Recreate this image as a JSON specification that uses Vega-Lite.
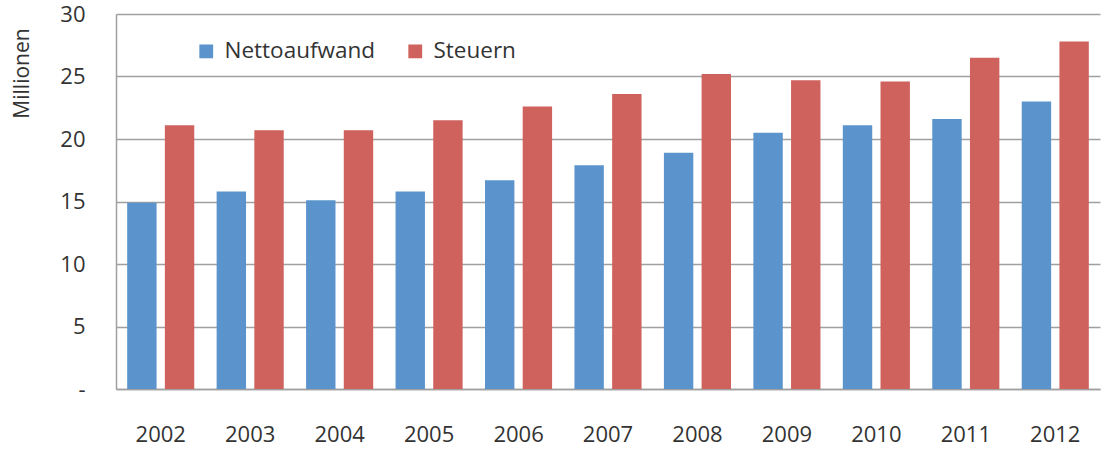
{
  "$schema": "https://vega.github.io/schema/vega-lite/v6.json",
  "width": 984,
  "height": 375,
  "autosize": {"type": "none"},
  "padding": {"left": 116, "top": 14, "right": 4, "bottom": 61},
  "background": "white",
  "config": {
    "view": {"stroke": null},
    "font": "Open Sans"
  },
  "data": {
    "values": [
      {"year": "2002", "series": "Nettoaufwand", "value": 14.9},
      {"year": "2002", "series": "Steuern", "value": 21.1},
      {"year": "2003", "series": "Nettoaufwand", "value": 15.8},
      {"year": "2003", "series": "Steuern", "value": 20.7},
      {"year": "2004", "series": "Nettoaufwand", "value": 15.1},
      {"year": "2004", "series": "Steuern", "value": 20.7},
      {"year": "2005", "series": "Nettoaufwand", "value": 15.8},
      {"year": "2005", "series": "Steuern", "value": 21.5},
      {"year": "2006", "series": "Nettoaufwand", "value": 16.7},
      {"year": "2006", "series": "Steuern", "value": 22.6},
      {"year": "2007", "series": "Nettoaufwand", "value": 17.9},
      {"year": "2007", "series": "Steuern", "value": 23.6},
      {"year": "2008", "series": "Nettoaufwand", "value": 18.9},
      {"year": "2008", "series": "Steuern", "value": 25.2},
      {"year": "2009", "series": "Nettoaufwand", "value": 20.5},
      {"year": "2009", "series": "Steuern", "value": 24.7},
      {"year": "2010", "series": "Nettoaufwand", "value": 21.1},
      {"year": "2010", "series": "Steuern", "value": 24.6},
      {"year": "2011", "series": "Nettoaufwand", "value": 21.6},
      {"year": "2011", "series": "Steuern", "value": 26.5},
      {"year": "2012", "series": "Nettoaufwand", "value": 23.0},
      {"year": "2012", "series": "Steuern", "value": 27.8}
    ]
  },
  "mark": {"type": "bar"},
  "encoding": {
    "x": {
      "field": "year",
      "type": "nominal",
      "scale": {"paddingInner": 0.25, "paddingOuter": 0.125},
      "axis": {
        "title": null,
        "labelAngle": 0,
        "labelFontSize": 22,
        "labelColor": "#333333",
        "labelPadding": 35,
        "ticks": false,
        "domainColor": "#a0a0a0",
        "domainWidth": 1.5
      }
    },
    "xOffset": {
      "field": "series",
      "type": "nominal",
      "scale": {"paddingInner": 0.22, "paddingOuter": 0}
    },
    "y": {
      "field": "value",
      "type": "quantitative",
      "scale": {"domain": [0, 30]},
      "axis": {
        "values": [0, 5, 10, 15, 20, 25, 30],
        "labelExpr": "datum.value == 0 ? '-' : datum.label",
        "labelFontSize": 22,
        "labelColor": "#333333",
        "labelPadding": 31,
        "ticks": false,
        "grid": true,
        "gridColor": "#a0a0a0",
        "gridWidth": 1.5,
        "domainColor": "#a0a0a0",
        "domainWidth": 1.5,
        "title": "Millionen",
        "titleFontSize": 21,
        "titleFontWeight": "normal",
        "titleColor": "#333333",
        "titleAngle": -90,
        "titleX": -94,
        "titleY": 59,
        "titleAlign": "center",
        "titleBaseline": "middle"
      }
    },
    "color": {
      "field": "series",
      "type": "nominal",
      "scale": {"domain": ["Nettoaufwand", "Steuern"], "range": ["#5b94cd", "#cf625c"]},
      "legend": {
        "title": null,
        "orient": "none",
        "direction": "horizontal",
        "legendX": 79,
        "legendY": 26,
        "padding": 0,
        "symbolType": "square",
        "symbolSize": 190,
        "symbolStrokeWidth": 0,
        "labelFontSize": 22.5,
        "labelColor": "#333333",
        "labelOffset": 7,
        "columnPadding": 28
      }
    }
  }
}
